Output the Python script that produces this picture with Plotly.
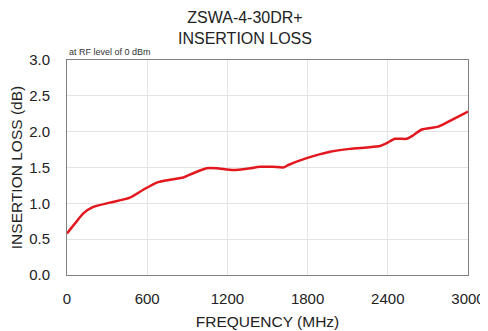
import plotly.graph_objects as go

freq_mhz = [0, 60, 122, 197, 322, 471, 571, 671, 771, 870, 945, 1045, 1120, 1244, 1369,
            1444, 1540, 1618, 1656, 1793, 1968, 2117, 2242, 2342, 2392, 2454, 2541,
            2591, 2654, 2778, 2865, 3000]
insertion_loss_db = [0.58, 0.72, 0.86, 0.95, 1.01, 1.08, 1.19, 1.29, 1.33, 1.36, 1.42, 1.49,
                     1.49, 1.465, 1.49, 1.51, 1.51, 1.50, 1.535, 1.63, 1.72, 1.76, 1.78,
                     1.80, 1.84, 1.90, 1.90, 1.95, 2.03, 2.07, 2.15, 2.28]
x_ticks = [0, 600, 1200, 1800, 2400, 3000]
y_ticks = [0.0, 0.5, 1.0, 1.5, 2.0, 2.5, 3.0]

fig = go.Figure()
fig.add_trace(go.Scatter(
    x=freq_mhz, y=insertion_loss_db, mode="lines",
    line=dict(color="#e3171e", width=2.5, shape="spline", smoothing=0.6),
    showlegend=False, hoverinfo="skip"))

font_family = "Liberation Sans, Arial, sans-serif"
# page body has an 8px margin, so the figure is sized/offset to compensate
fig.update_layout(
    width=480, height=323,
    margin=dict(l=59, r=20, t=52, b=56, autoexpand=False),
    paper_bgcolor="white", plot_bgcolor="white",
    font=dict(family=font_family, color="#222222"),
    xaxis=dict(range=[0, 3000], tickvals=x_ticks, ticktext=[str(v) for v in x_ticks],
               showgrid=True, gridcolor="#e4e4e4", gridwidth=1,
               showline=True, linecolor="#808080", linewidth=1, mirror=True,
               zeroline=False, ticks="", tickfont=dict(size=15), automargin=False,
               ticklabelstandoff=10,
               title=dict(text="FREQUENCY (MHz)", font=dict(size=15.5), standoff=10)),
    yaxis=dict(range=[0, 3.0], tickvals=y_ticks, ticktext=[f"{v:.1f}" for v in y_ticks],
               showgrid=True, gridcolor="#e4e4e4", gridwidth=1,
               showline=True, linecolor="#808080", linewidth=1, mirror=True,
               zeroline=False, ticks="", tickfont=dict(size=15), automargin=False,
               ticklabelstandoff=13,
               title=dict(text="INSERTION LOSS (dB)", font=dict(size=15.5), standoff=2)),
    annotations=[
        dict(text="ZSWA-4-30DR+<br>INSERTION LOSS", xref="paper", yref="paper",
             x=0.445, y=1.0, xanchor="center", yanchor="bottom", yshift=11,
             showarrow=False, font=dict(size=16, color="#222222")),
        dict(text="at RF level of 0 dBm", xref="paper", yref="paper",
             x=0.0, y=1.0, xanchor="left", yanchor="bottom", yshift=1,
             showarrow=False, font=dict(size=9, color="#333333"))],
)

fig.write_html("out.html")
